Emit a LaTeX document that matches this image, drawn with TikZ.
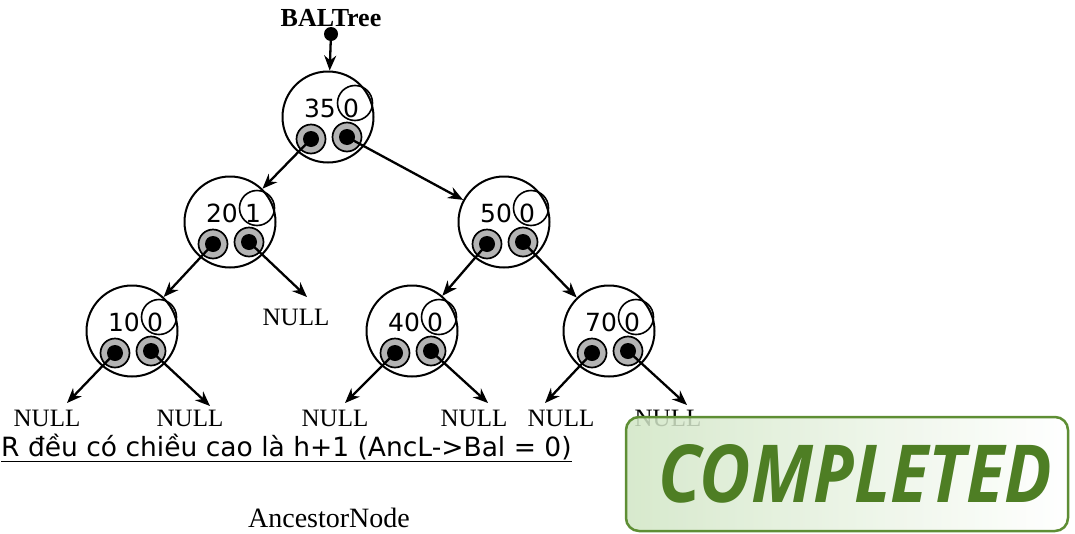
\documentclass[tikz,border=0pt]{standalone}
\usepackage{fontspec}
\setmainfont{Liberation Serif}
\newfontfamily\dvs{DejaVu Sans}
\newfontfamily\osans{Open Sans}
\usetikzlibrary{arrows.meta,calc}
\definecolor{ptrgray}{HTML}{B4B4B4}
\definecolor{bannergreen}{HTML}{4E7E24}
\definecolor{bannerborder}{HTML}{5E8E34}
\definecolor{bannerfill}{HTML}{D0E5C4}
\tikzset{
  treecirc/.style={circle,draw,line width=2pt,minimum size=91pt,inner sep=0pt},
  balcirc/.style={circle,draw,line width=1.6pt,minimum size=35pt,inner sep=0pt},
  ptr/.style={circle,draw,line width=1.7pt,fill=ptrgray,minimum size=29pt,inner sep=0pt},
  ptrdot/.style={circle,fill=black,minimum size=16pt,inner sep=0pt},
  keytxt/.style={font=\dvs\fontsize{25}{25}\selectfont,inner sep=0pt},
  nulltxt/.style={font=\fontsize{25}{25}\selectfont,inner sep=0pt},
  link/.style={line width=2.3pt,-{Stealth[length=15pt,width=12pt]}},
  banner/.style={draw=bannerborder,line width=2.5pt,rounded corners=13pt,
    minimum width=442pt,minimum height=114pt,inner sep=0pt,
    left color=bannerfill,right color=white,fill opacity=0.85,text opacity=1,
    text=bannergreen,font=\osans\bfseries\itshape\fontsize{80}{80}\selectfont},
}
\newcommand\avlnode[5]{%
  \node[treecirc] (#1) at (#2,#3) {};
  \node[balcirc] (#1-b) at ($(#1.center)+(27,-14)$) {};
  \node[keytxt] (#1-k) at ($(#1.center)+(-8,-9)$) {#4};
  \node[keytxt] (#1-v) at ($(#1-b.center)+(-4,5)$) {#5};
  \node[ptr] (#1-l) at ($(#1.center)+(-17,22)$) {};
  \node[ptrdot] (#1-ld) at (#1-l.center) {};
  \node[ptr] (#1-r) at ($(#1.center)+(19,20)$) {};
  \node[ptrdot] (#1-rd) at (#1-r.center) {};
}
\begin{document}
\begin{tikzpicture}[x=1pt,y=-1pt]
\useasboundingbox (0,0) rectangle (1075,533);
% top label
\node[font=\bfseries\fontsize{26}{26}\selectfont,inner sep=0pt] (bal) at (331,18) {BALTree};
\node[circle,fill=black,minimum size=14pt,inner sep=0pt] (bdot) at (331,34) {};
% tree nodes
\avlnode{n35}{328}{117}{35}{0}
\avlnode{n20}{230}{222}{20}{1}
\avlnode{n50}{504}{222}{50}{0}
\avlnode{n10}{132}{331}{10}{0}
\avlnode{n40}{412}{331}{40}{0}
\avlnode{n70}{609}{331}{70}{0}
% NULL labels
\node[nulltxt] (z0) at (296,317) {NULL};
\node[nulltxt] (z1) at (47,418) {NULL};
\node[nulltxt] (z2) at (190,418) {NULL};
\node[nulltxt] (z3) at (335,418) {NULL};
\node[nulltxt] (z4) at (474,418) {NULL};
\node[nulltxt] (z5) at (561,418) {NULL};
\node[nulltxt] (z6) at (668,418) {NULL};
% arrow end points above NULL labels
\coordinate (t0) at (307,297);
\coordinate (t1) at (67,403);
\coordinate (t2) at (210,406);
\coordinate (t3) at (345,403);
\coordinate (t4) at (488,403);
\coordinate (t5) at (545,403);
\coordinate (t6) at (687,405);
% connectors
\draw[link] (bdot.center) -- (n35);
\draw[link] (n35-l.center) -- (n20);
\draw[link] (n35-r.center) -- (n50);
\draw[link] (n20-l.center) -- (n10);
\draw[link] (n20-r.center) -- (t0);
\draw[link] (n50-l.center) -- (n40);
\draw[link] (n50-r.center) -- (n70);
\draw[link] (n10-l.center) -- (t1);
\draw[link] (n10-r.center) -- (t2);
\draw[link] (n40-l.center) -- (t3);
\draw[link] (n40-r.center) -- (t4);
\draw[link] (n70-l.center) -- (t5);
\draw[link] (n70-r.center) -- (t6);
% bottom texts
\node[anchor=base west,inner sep=0pt,font=\dvs\fontsize{26.5}{26.5}\selectfont] (cap) at (1,456)
  {\underline{R đều có chiều cao là h+1 (AncL->Bal = 0)}};
\node[inner sep=0pt,font=\fontsize{28}{28}\selectfont] (anc) at (329,518) {AncestorNode};
% banner
\node[banner] (done) at (847,474) {\hspace*{16pt}\scalebox{0.88}[1]{COMPLETED}};
\end{tikzpicture}
\end{document}
